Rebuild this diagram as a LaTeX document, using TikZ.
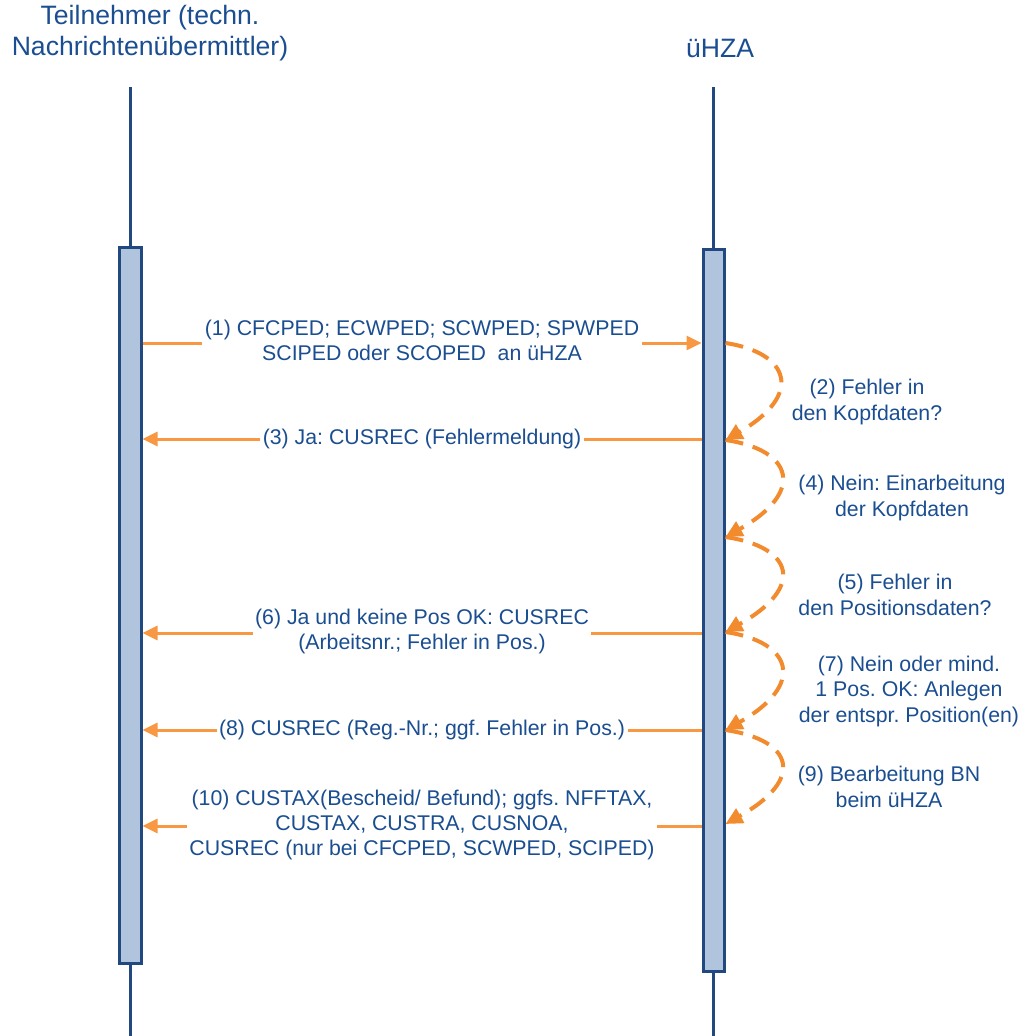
\documentclass[tikz,border=0pt]{standalone}
\usepackage{fontspec}
\setmainfont{Liberation Sans}
\usetikzlibrary{arrows.meta}
\frenchspacing
\definecolor{txtblue}{RGB}{26,78,145}
\definecolor{lineblue}{RGB}{33,73,127}
\definecolor{barfill}{RGB}{176,196,222}
\definecolor{orsolid}{RGB}{248,152,66}
\definecolor{ordash}{RGB}{242,138,46}
\tikzset{
  lifeline/.style={draw=lineblue, line width=3pt},
  actbar/.style={draw=lineblue, fill=barfill, line width=3pt},
  title/.style={text=txtblue, align=center, font=\fontsize{26.6}{31}\selectfont, inner sep=0pt},
  msg/.style={draw=orsolid, line width=3pt, -{Triangle[length=15pt,width=14pt]}},
  msglabel/.style={text=txtblue, align=center, fill=white, inner xsep=2.5pt, inner ysep=1pt, font=\fontsize{21.3}{25}\selectfont},
  selfmsg/.style={draw=ordash, line width=4pt, dash pattern=on 18pt off 10pt, -{Triangle[length=17pt,width=16pt]}},
  selflabel/.style={text=txtblue, align=center, inner sep=0pt, font=\fontsize{21.3}{25.5}\selectfont},
}
\begin{document}
\begin{tikzpicture}[x=1pt,y=-1pt]
\useasboundingbox (0,0) rectangle (1026,1036);
% titles
\node[title] (tl) at (150,33) {Teilnehmer (techn.\\Nachrichtenübermittler)};
\node[title] (tr) at (720,48) {üHZA};
% lifelines
\coordinate (lTop) at (130,87);
\coordinate (lBot) at (130,1036);
\coordinate (rTop) at (713,87);
\coordinate (rBot) at (713,1036);
\draw[lifeline] (lTop) -- (lBot);
\draw[lifeline] (rTop) -- (rBot);
% activation bars
\node[actbar, minimum width=22pt, minimum height=716pt, inner sep=0pt, anchor=north] (barL) at (130,246) {};
\node[actbar, minimum width=21pt, minimum height=722pt, inner sep=0pt, anchor=north] (barR) at (713.5,248) {};
% endpoints
\coordinate (L1) at (barL.east |- 0,343);
\coordinate (R1) at (barR.west |- 0,343);
\coordinate (L3) at (barL.east |- 0,439);
\coordinate (R3) at (barR.west |- 0,439);
\coordinate (L6) at (barL.east |- 0,633);
\coordinate (R6) at (barR.west |- 0,633);
\coordinate (L8) at (barL.east |- 0,730);
\coordinate (R8) at (barR.west |- 0,730);
\coordinate (L10) at (barL.east |- 0,826);
\coordinate (R10) at (barR.west |- 0,826);
% messages
\draw[msg] (L1) -- (R1);
\node[msglabel] (m1) at (422,340) {(1) CFCPED; ECWPED; SCWPED; SPWPED\\SCIPED oder SCOPED\ \ an üHZA};
\draw[msg] (R3) -- (L3);
\node[msglabel] (m3) at (422,439) {(3) Ja: CUSREC (Fehlermeldung)};
\draw[msg] (R6) -- (L6);
\node[msglabel] (m6) at (422,631.5) {(6) Ja und keine Pos OK: CUSREC\\(Arbeitsnr.; Fehler in Pos.)};
\draw[msg] (R8) -- (L8);
\node[msglabel] (m8) at (422,730) {(8) CUSREC (Reg.-Nr.; ggf. Fehler in Pos.)};
\draw[msg] (R10) -- (L10);
\node[msglabel] (m10) at (422,825) {(10) CUSTAX(Bescheid/ Befund); ggfs. NFFTAX,\\CUSTAX, CUSTRA, CUSNOA,\\CUSREC (nur bei CFCPED, SCWPED, SCIPED)};
% self messages
\coordinate (s0) at (barR.east |- 0,343);
\coordinate (s1) at (barR.east |- 0,440);
\coordinate (s2) at (barR.east |- 0,537);
\coordinate (s3) at (barR.east |- 0,632);
\coordinate (s4) at (barR.east |- 0,730);
\coordinate (s5) at (barR.east |- 0,824);
\draw[selfmsg] (s0) .. controls +(65,10) and +(78,-45) .. (s1);
\draw[selfmsg] (s1) .. controls +(68,10) and +(80,-45) .. (s2);
\draw[selfmsg] (s2) .. controls +(68,10) and +(80,-45) .. (s3);
\draw[selfmsg] (s3) .. controls +(68,10) and +(80,-45) .. (s4);
\draw[selfmsg] (s4) .. controls +(68,10) and +(80,-45) .. (s5);
\node[selflabel] (n2) at (867,402) {(2) Fehler in\\den Kopfdaten?};
\node[selflabel] (n4) at (902,498) {(4) Nein: Einarbeitung\\der Kopfdaten};
\node[selflabel] (n5) at (895,595) {(5) Fehler in\\den Positionsdaten?};
\node[selflabel] (n7) at (909,691) {(7) Nein oder mind.\\1 Pos. OK: Anlegen\\der entspr. Position(en)};
\node[selflabel] (n9) at (889,787) {(9) Bearbeitung BN\\beim üHZA};
\end{tikzpicture}
\end{document}
